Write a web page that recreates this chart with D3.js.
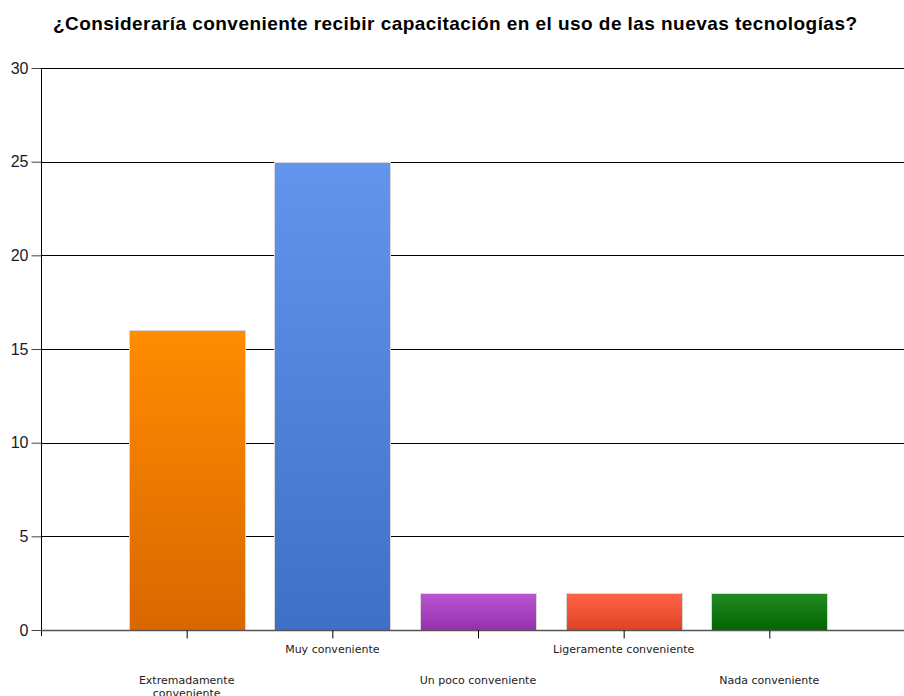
<!DOCTYPE html>
<html>
<head>
<meta charset="utf-8">
<script src="https://cdn.jsdelivr.net/npm/d3@7"></script>
<style>
  html, body { margin: 0; padding: 0; background: #fff; }
  svg { display: block; }
</style>
</head>
<body>
<svg id="chart" width="904" height="696"></svg>
<script>
// Survey responses
const categories = ["Extremadamente conveniente", "Muy conveniente", "Un poco conveniente", "Ligeramente conveniente", "Nada conveniente"];
const values = [16, 25, 2, 2, 2];
const yTicks = [0, 5, 10, 15, 20, 25, 30];
const title = "¿Consideraría conveniente recibir capacitación en el uso de las nuevas tecnologías?";

// Per-bar gradient colours: top, bottom
const topColors = ["#ff8c00", "#6495ed", "#ba55d3", "#ff6347", "#228b22"];
const bottomColors = ["#d96700", "#3f70c6", "#9530ad", "#dc4323", "#006400"];

(function draw() {
  const svg = d3.select("#chart");
  const plotLeft = 41, plotTop = 68, plotBottom = 630, plotRight = 915;

  const x = d3.scalePoint().domain(categories).range([plotLeft, plotRight]).padding(1);
  const y = d3.scaleLinear().domain([0, 30]).range([plotBottom, plotTop]);
  const barW = x.step() * 0.795;

  // Gradients
  const defs = svg.append("defs");
  categories.forEach((c, i) => {
    const g = defs.append("linearGradient").attr("id", "g" + i)
      .attr("x1", 0).attr("y1", 0).attr("x2", 0).attr("y2", 1);
    g.append("stop").attr("offset", "0%").attr("stop-color", topColors[i]);
    g.append("stop").attr("offset", "100%").attr("stop-color", bottomColors[i]);
  });

  // Title
  svg.append("text")
    .attr("x", 455).attr("y", 30)
    .attr("text-anchor", "middle")
    .attr("textLength", 804).attr("lengthAdjust", "spacing")
    .style("font-family", "'Liberation Sans', Arial, sans-serif")
    .style("font-weight", "bold")
    .style("font-size", "19px")
    .attr("fill", "#000")
    .text(title);

  // Horizontal gridlines
  svg.append("g").selectAll("line").data(yTicks.filter(d => d > 0)).join("line")
    .attr("x1", plotLeft).attr("x2", 904)
    .attr("y1", d => Math.round(y(d)) + 0.5).attr("y2", d => Math.round(y(d)) + 0.5)
    .attr("stroke", "#000").attr("stroke-width", 1);

  // Y axis
  const yAxis = svg.append("g")
    .attr("transform", `translate(${plotLeft + 0.5},0)`)
    .call(d3.axisLeft(y).tickValues(yTicks).tickSize(10).tickPadding(3).tickSizeOuter(0));
  yAxis.select(".domain").remove();
  yAxis.selectAll(".tick line").attr("stroke", "#444");
  yAxis.selectAll(".tick text")
    .style("font-family", "'Liberation Sans', Arial, sans-serif")
    .style("font-size", "16px")
    .attr("fill", "#1a1a2a");
  svg.append("line")
    .attr("x1", plotLeft + 0.5).attr("x2", plotLeft + 0.5)
    .attr("y1", plotTop).attr("y2", plotBottom + 6)
    .attr("stroke", "#000");

  // Bars
  svg.append("g").selectAll("rect").data(values).join("rect")
    .attr("x", (d, i) => Math.round(x(categories[i]) - barW / 2) + 0.5)
    .attr("y", d => Math.round(y(d)) + 0.5)
    .attr("width", Math.round(barW))
    .attr("height", d => Math.round(plotBottom - y(d)))
    .attr("fill", (d, i) => `url(#g${i})`)
    .attr("stroke", "#d8d8d8").attr("stroke-width", 1);

  // X axis
  const xAxis = svg.append("g")
    .attr("transform", `translate(0,${plotBottom + 0.5})`)
    .call(d3.axisBottom(x).tickSize(8).tickSizeOuter(0).tickFormat(""));
  xAxis.select(".domain").attr("d", `M${plotLeft},0H904`).attr("stroke", "#555").attr("stroke-width", 1.5);
  xAxis.selectAll(".tick line").attr("stroke", "#000");

  // Staggered category labels
  const labels = svg.append("g")
    .style("font-family", "'DejaVu Sans', Verdana, sans-serif")
    .style("font-size", "11px")
    .attr("fill", "#222");
  categories.forEach((c, i) => {
    const even = i % 2 === 0;
    const t = labels.append("text")
      .attr("text-anchor", "middle")
      .attr("x", x(c));
    if (i === 0) {
      const parts = c.split(" ");
      t.append("tspan").attr("x", x(c)).attr("y", 684).text(parts[0]);
      t.append("tspan").attr("x", x(c)).attr("y", 697).text(parts[1]);
    } else {
      t.attr("y", even ? 684 : 653).text(c);
    }
  });
})();
</script>
</body>
</html>
